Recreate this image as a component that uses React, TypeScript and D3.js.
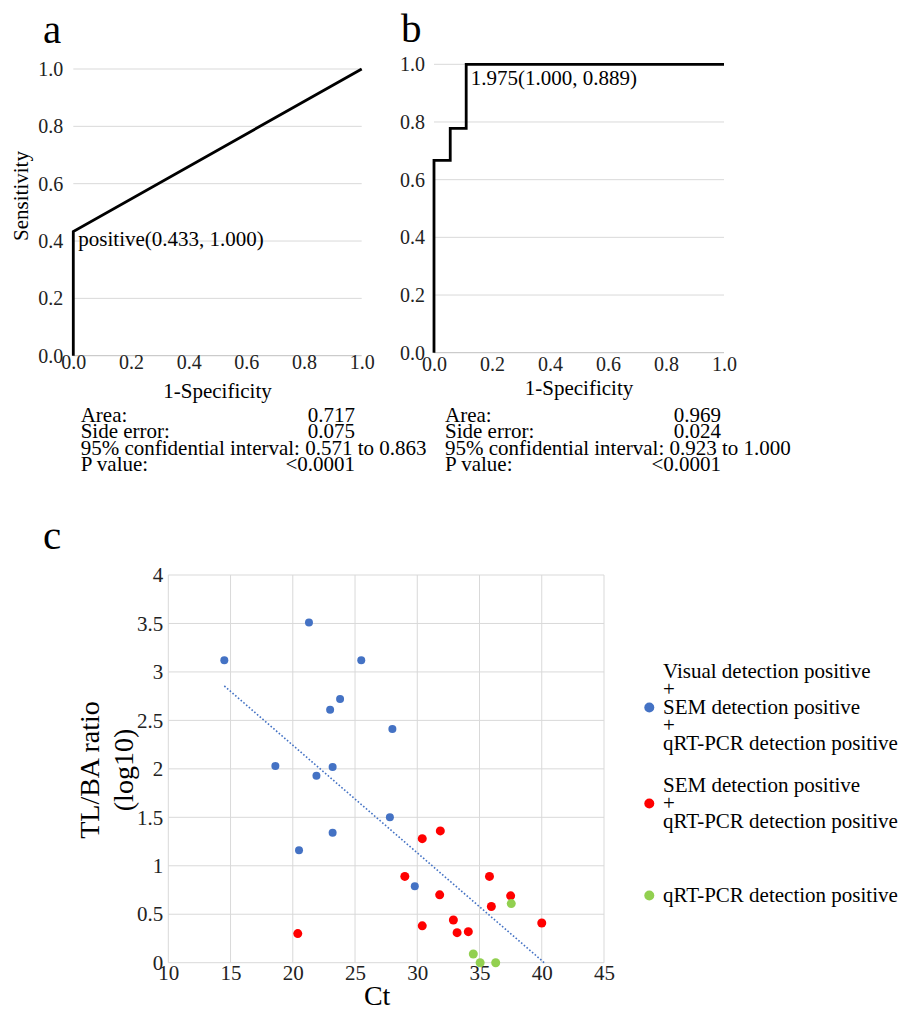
import React, { useEffect, useRef } from "react";
import { select, scaleLinear, line, axisLeft, axisBottom } from "d3";

// ROC curve a
const rocAFpr = [0, 0, 1];
const rocATpr = [0, 0.433, 1];
// ROC curve b
const rocBFpr = [0, 0, 0.056, 0.056, 0.111, 0.111, 1];
const rocBTpr = [0, 0.667, 0.667, 0.778, 0.778, 1, 1];
const rocTicks = [0, 0.2, 0.4, 0.6, 0.8, 1.0];

const statsLabelsA = ["Area:", "Side error:", "95% confidential interval: 0.571 to 0.863", "P value:"];
const statsValuesA = ["0.717", "0.075", "", "<0.0001"];
const statsLabelsB = ["Area:", "Side error:", "95% confidential interval: 0.923 to 1.000", "P value:"];
const statsValuesB = ["0.969", "0.024", "", "<0.0001"];

// scatter c
const blueCt = [14.5, 21.3, 25.5, 23.8, 23.0, 28.0, 18.6, 23.2, 21.9, 27.8, 23.2, 20.5, 29.8];
const blueRatio = [3.12, 3.51, 3.12, 2.72, 2.61, 2.41, 2.03, 2.02, 1.93, 1.5, 1.34, 1.16, 0.79];
const redCt = [20.4, 29.0, 30.4, 31.85, 31.8, 30.4, 32.9, 33.2, 34.1, 35.8, 35.95, 37.5, 40.0];
const redRatio = [0.3, 0.89, 1.28, 1.36, 0.7, 0.38, 0.44, 0.31, 0.32, 0.89, 0.58, 0.69, 0.41];
const greenCt = [34.5, 35.05, 36.3, 37.55];
const greenRatio = [0.09, 0.0, 0.0, 0.61];
const trendCt = [14.5, 40.2];
const trendRatio = [2.855, 0];
const ctTicks = [10, 15, 20, 25, 30, 35, 40, 45];
const ratioTicks = [0, 0.5, 1, 1.5, 2, 2.5, 3, 3.5, 4];

const legendItems = [
  { color: "#4472c4", lines: ["Visual detection positive", "+", "SEM detection positive", "+", "qRT-PCR detection positive"] },
  { color: "#ff0000", lines: ["SEM detection positive", "+", "qRT-PCR detection positive"] },
  { color: "#92d050", lines: ["qRT-PCR detection positive"] },
];

const FONT = "'Liberation Serif', 'Times New Roman', serif";

function drawRoc(svg, o) {
  const x = scaleLinear().domain([0, 1]).range(o.xr);
  const y = scaleLinear().domain([0, 1]).range(o.yr);
  const g = svg.append("g");

  g.selectAll("line.grid")
    .data(rocTicks.slice(1))
    .enter()
    .append("line")
    .attr("x1", x(0))
    .attr("x2", x(1))
    .attr("y1", (d) => y(d))
    .attr("y2", (d) => y(d))
    .attr("stroke", "#d9d9d9")
    .attr("stroke-width", 1);

  g.append("line")
    .attr("x1", x(0))
    .attr("x2", x(1))
    .attr("y1", y(0))
    .attr("y2", y(0))
    .attr("stroke", "#bfbfbf");

  const ya = g.append("g").attr("transform", `translate(${x(0)},0)`)
    .call(axisLeft(y).tickValues(rocTicks).tickSize(0).tickPadding(o.yPad).tickFormat((d) => d.toFixed(1)));
  const xa = g.append("g").attr("transform", `translate(0,${y(0)})`)
    .call(axisBottom(x).tickValues(rocTicks).tickSize(0).tickPadding(o.xPad).tickFormat((d) => d.toFixed(1)));
  [ya, xa].forEach((a) => {
    a.attr("font-family", FONT);
    a.select(".domain").remove();
    a.selectAll("text").attr("font-family", FONT).attr("font-size", 20).attr("fill", "#222");
  });

  const pts = o.fpr.map((f, i) => [f, o.tpr[i]]);
  g.append("path")
    .attr("d", line().x((d) => x(d[0])).y((d) => y(d[1]))(pts))
    .attr("fill", "none")
    .attr("stroke", "#000")
    .attr("stroke-width", 2.8);

  g.append("text")
    .attr("x", x(o.note[0]) + o.noteOff[0])
    .attr("y", y(o.note[1]) + o.noteOff[1])
    .attr("font-family", FONT).attr("font-size", 21)
    .text(o.noteText);

  g.append("text")
    .attr("x", (x(0) + x(1)) / 2)
    .attr("y", o.xTitleY)
    .attr("text-anchor", "middle")
    .attr("font-family", FONT).attr("font-size", 21)
    .text("1-Specificity");

  g.append("text")
    .attr("x", o.letter[0]).attr("y", o.letter[1])
    .attr("font-family", FONT).attr("font-size", 41)
    .text(o.letterText);

  o.labels.forEach((t, i) => {
    g.append("text").attr("x", o.statsX).attr("y", 421.5 + i * 16.5)
      .attr("font-family", FONT).attr("font-size", 21).text(t);
    if (o.values[i]) {
      g.append("text").attr("x", o.valX).attr("y", 421.5 + i * 16.5)
        .attr("text-anchor", "end")
        .attr("font-family", FONT).attr("font-size", 21).text(o.values[i]);
    }
  });
}

const App = () => {
  const ref = useRef(null);

  useEffect(() => {
    const svg = select(ref.current);
    svg.selectAll("*").remove();

    drawRoc(svg, {
      xr: [73.3, 361.7], yr: [355.7, 69], yPad: 10, xPad: -1,
      fpr: rocAFpr, tpr: rocATpr,
      note: [0, 0.433], noteOff: [5, 14], noteText: "positive(0.433, 1.000)",
      xTitleY: 398, letter: [43, 43], letterText: "a",
      labels: statsLabelsA, values: statsValuesA, statsX: 80.7, valX: 355,
    });
    drawRoc(svg, {
      xr: [434, 724], yr: [352.7, 64.3], yPad: 9, xPad: 4,
      fpr: rocBFpr, tpr: rocBTpr,
      note: [0.111, 1], noteOff: [4.5, 21], noteText: "1.975(1.000, 0.889)",
      xTitleY: 395, letter: [401, 42], letterText: "b",
      labels: statsLabelsB, values: statsValuesB, statsX: 445, valX: 721,
    });

    svg.append("text")
      .attr("x", 28).attr("y", 196)
      .attr("transform", "rotate(-90,28,196)")
      .attr("text-anchor", "middle")
      .attr("font-family", FONT).attr("font-size", 21)
      .text("Sensitivity");

    // panel c
    const x = scaleLinear().domain([10, 45]).range([168.3, 604]);
    const y = scaleLinear().domain([0, 4]).range([962.7, 575]);
    const g = svg.append("g");

    g.selectAll("line.h").data(ratioTicks).enter().append("line")
      .attr("x1", x(10)).attr("x2", x(45))
      .attr("y1", (d) => y(d)).attr("y2", (d) => y(d))
      .attr("stroke", "#d9d9d9");
    g.selectAll("line.v").data(ctTicks).enter().append("line")
      .attr("y1", y(0)).attr("y2", y(4))
      .attr("x1", (d) => x(d)).attr("x2", (d) => x(d))
      .attr("stroke", "#d9d9d9");

    const ya = g.append("g").attr("transform", `translate(${x(10)},0)`)
      .call(axisLeft(y).tickValues(ratioTicks).tickSize(0).tickPadding(5).tickFormat((d) => String(d)));
    const xa = g.append("g").attr("transform", `translate(0,${y(0)})`)
      .call(axisBottom(x).tickValues(ctTicks).tickSize(0).tickPadding(2.5).tickFormat((d) => String(d)));
    [ya, xa].forEach((a) => {
      a.attr("font-family", FONT);
      a.select(".domain").remove();
      a.selectAll("text").attr("font-family", FONT).attr("font-size", 21).attr("fill", "#222");
    });

    g.append("path")
      .attr("d", line().x((d) => x(d[0])).y((d) => y(d[1]))(trendCt.map((c, i) => [c, trendRatio[i]])))
      .attr("stroke", "#4472c4")
      .attr("stroke-width", 1.6)
      .attr("stroke-dasharray", "1.6 2")
      .attr("fill", "none");

    const series = [
      { ct: blueCt, r: blueRatio, color: "#4472c4", rad: 4 },
      { ct: redCt, r: redRatio, color: "#ff0000", rad: 4.5 },
      { ct: greenCt, r: greenRatio, color: "#92d050", rad: 4.5 },
    ];
    series.forEach((s) => {
      g.selectAll(null).data(s.ct.map((c, i) => [c, s.r[i]])).enter().append("circle")
        .attr("cx", (d) => x(d[0])).attr("cy", (d) => y(d[1]))
        .attr("r", s.rad).attr("fill", s.color);
    });

    g.append("text").attr("x", (x(10) + x(45)) / 2 - 9).attr("y", 1005)
      .attr("text-anchor", "middle")
      .attr("font-family", FONT).attr("font-size", 28).text("Ct");

    const yt = g.append("text")
      .attr("transform", "translate(98.5,770) rotate(-90)")
      .attr("text-anchor", "middle")
      .attr("font-family", FONT).attr("font-size", 28);
    yt.append("tspan").attr("x", 0).attr("y", 0).text("TL/BA ratio");
    yt.append("tspan").attr("x", 0).attr("y", 34).text("(log10)");

    g.append("text").attr("x", 43).attr("y", 549)
      .attr("font-family", FONT).attr("font-size", 41).text("c");

    // legend
    const legendTop = [678, 792, 902];
    legendItems.forEach((it, k) => {
      const n = it.lines.length;
      const mid = legendTop[k] + ((n - 1) / 2) * 18 - 6.5;
      g.append("circle").attr("cx", 649.3).attr("cy", mid).attr("r", 5).attr("fill", it.color);
      it.lines.forEach((t, i) => {
        g.append("text").attr("x", 663).attr("y", legendTop[k] + i * 18)
          .attr("font-family", FONT).attr("font-size", 21).text(t);
      });
    });
  }, []);

  return (
    <div style={{ position: "absolute", left: 0, top: 0 }}>
      <svg ref={ref} width={910} height={1012} style={{ display: "block", background: "#fff" }} />
    </div>
  );
};

export default App;
